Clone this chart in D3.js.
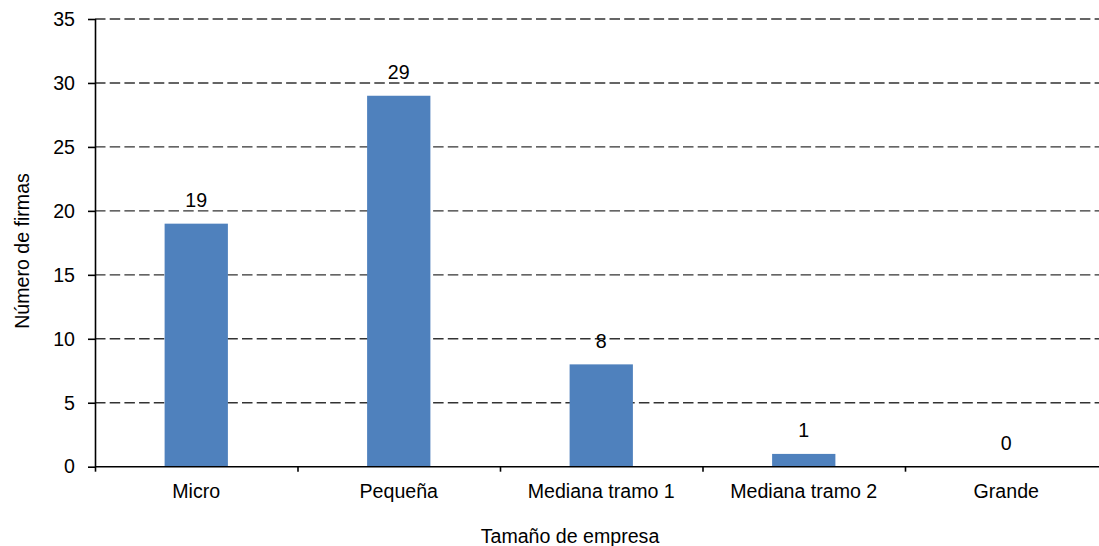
<!DOCTYPE html>
<html>
<head>
<meta charset="utf-8">
<script src="https://cdn.jsdelivr.net/npm/d3@7"></script>
<style>
  html, body { margin: 0; padding: 0; background: #fff; overflow: hidden; }
  svg { display: block; font-family: "Liberation Sans", Arial, sans-serif; }
</style>
</head>
<body>
<svg id="chart" width="1099" height="546"></svg>
<script>
// Firms by company size
const categories = ["Micro", "Pequeña", "Mediana tramo 1", "Mediana tramo 2", "Grande"];
const firmCounts = [19, 29, 8, 1, 0];
const yTicks = [0, 5, 10, 15, 20, 25, 30, 35];
const xTitle = "Tamaño de empresa";
const yTitle = "Número de firmas";

const svg = d3.select("#chart");
const W = 1099, H = 546;
const plotLeft = 95, plotTop = 19, plotBottom = 466.7;
const step = 202.5;
const fontSize = 19.6;

const x = d3.scaleBand()
  .domain(categories)
  .range([plotLeft, plotLeft + step * categories.length])
  .padding(0);

const y = d3.scaleLinear()
  .domain([0, 35])
  .range([plotBottom, plotTop]);

const barW = step * 0.3125;

// dashed horizontal gridlines
svg.append("g")
  .selectAll("line")
  .data(yTicks.filter(d => d > 0))
  .join("line")
  .attr("x1", plotLeft)
  .attr("x2", W)
  .attr("y1", d => y(d))
  .attr("y2", d => y(d))
  .attr("stroke", "#333")
  .attr("stroke-width", 1.4)
  .attr("stroke-dasharray", "10.5,4.2");

// bars
svg.append("g")
  .selectAll("rect")
  .data(firmCounts)
  .join("rect")
  .attr("x", (d, i) => x(categories[i]) + (x.bandwidth() - barW) / 2)
  .attr("y", d => y(d))
  .attr("width", barW)
  .attr("height", d => y(0) - y(d))
  .attr("fill", "#4F81BD");

// value labels
svg.append("g")
  .selectAll("text")
  .data(firmCounts)
  .join("text")
  .attr("x", (d, i) => x(categories[i]) + x.bandwidth() / 2)
  .attr("y", d => y(d) - 16.5)
  .attr("text-anchor", "middle")
  .attr("font-size", fontSize)
  .attr("fill", "#000")
  .text(d => d);

// y axis
const yAxis = svg.append("g")
  .attr("transform", `translate(${plotLeft},0)`)
  .call(d3.axisLeft(y).tickValues(yTicks).tickSize(7).tickPadding(13).tickFormat(d3.format("d")));
yAxis.select(".domain").attr("stroke", "#000").attr("stroke-width", 1.6)
  .attr("d", `M0.5,${y(35)}V${y(0)}`);
yAxis.selectAll(".tick line").attr("stroke", "#000").attr("stroke-width", 1.6);
yAxis.selectAll(".tick text").attr("font-size", fontSize).attr("fill", "#000")
  .attr("font-family", "Liberation Sans, Arial, sans-serif");

// x axis
const xTickPos = d3.range(categories.length + 1).map(i => plotLeft + step * i);
const xAxis = svg.append("g")
  .attr("transform", `translate(0,${plotBottom})`)
  .call(d3.axisBottom(x).tickSize(0).tickPadding(17));
xAxis.select(".domain").attr("stroke", "#000").attr("stroke-width", 1.6)
  .attr("d", `M${plotLeft},0H${W}`);
xAxis.selectAll(".tick text").attr("font-size", fontSize).attr("fill", "#000")
  .attr("font-family", "Liberation Sans, Arial, sans-serif");
xAxis.append("g")
  .selectAll("line")
  .data(xTickPos)
  .join("line")
  .attr("x1", d => d + 0.5)
  .attr("x2", d => d + 0.5)
  .attr("y1", 0)
  .attr("y2", 5)
  .attr("stroke", "#000")
  .attr("stroke-width", 1.6);

// axis titles
svg.append("text")
  .attr("x", 570)
  .attr("y", 543)
  .attr("text-anchor", "middle")
  .attr("font-size", fontSize)
  .text(xTitle);

svg.append("text")
  .attr("transform", `translate(28.5,251) rotate(-90)`)
  .attr("text-anchor", "middle")
  .attr("font-size", fontSize)
  .text(yTitle);
</script>
</body>
</html>
